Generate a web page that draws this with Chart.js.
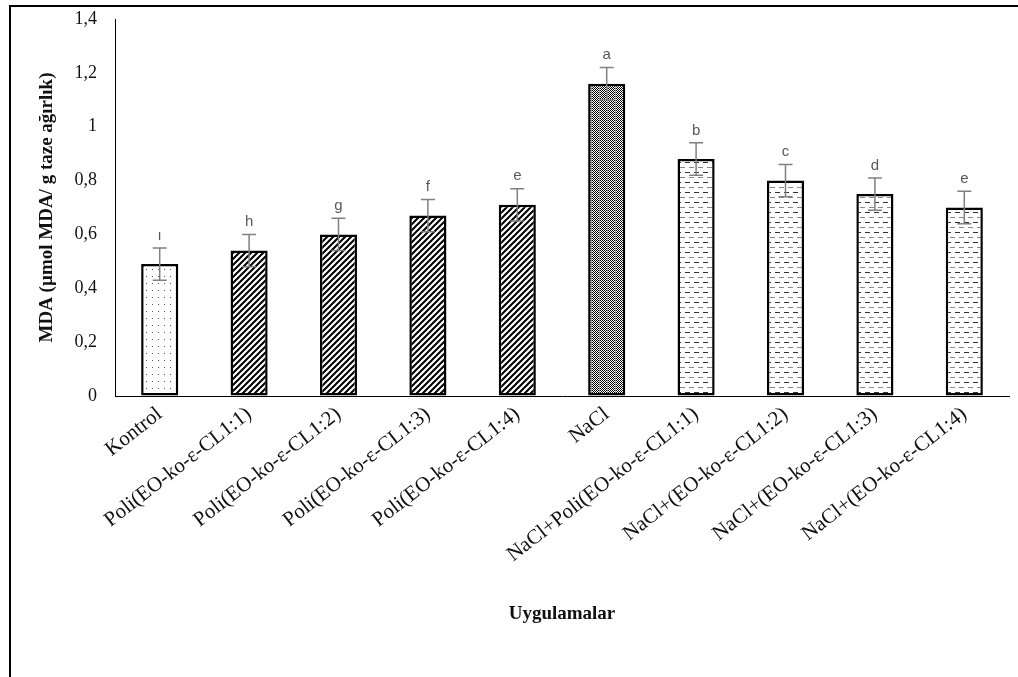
<!DOCTYPE html>
<html>
<head>
<meta charset="UTF-8">
<title>MDA</title>
<script src="https://cdn.jsdelivr.net/npm/chart.js@4"></script>
<style>
    body { margin: 0; background: #fff; }
    #wrap { position: relative; width: 1018px; height: 677px; overflow: hidden; }
    #frame {
        position: absolute; left: 9px; top: 5px; right: -5px; bottom: -5px;
        border-top: 2.5px solid #000; border-left: 2.5px solid #000;
    }
    canvas { position: absolute; left: 0; top: 0; }
</style>
</head>
<body>
<div id="wrap">
    <div id="frame"></div>
    <canvas id="chart" width="1018" height="677"></canvas>
</div>
<script>
// treatments
const categories = [
    'Kontrol',
    'Poli(EO-ko-ε-CL1:1)',
    'Poli(EO-ko-ε-CL1:2)',
    'Poli(EO-ko-ε-CL1:3)',
    'Poli(EO-ko-ε-CL1:4)',
    'NaCl',
    'NaCl+Poli(EO-ko-ε-CL1:1)',
    'NaCl+(EO-ko-ε-CL1:2)',
    'NaCl+(EO-ko-ε-CL1:3)',
    'NaCl+(EO-ko-ε-CL1:4)'
];
// MDA means and error (+/-)
const mdaValues = [0.49, 0.54, 0.60, 0.67, 0.71, 1.16, 0.88, 0.80, 0.75, 0.70];
const mdaErrors = [0.06, 0.06, 0.06, 0.06, 0.06, 0.06, 0.06, 0.06, 0.06, 0.06];
// significance letters
const letters = ['ı', 'h', 'g', 'f', 'e', 'a', 'b', 'c', 'd', 'e'];
const yTicks = [0, 0.2, 0.4, 0.6, 0.8, 1, 1.2, 1.4];

function makeTile(w, h, draw) {
    const c = document.createElement('canvas');
    c.width = w; c.height = h;
    const g = c.getContext('2d');
    g.fillStyle = '#fff';
    g.fillRect(0, 0, w, h);
    draw(g);
    return document.getElementById('chart').getContext('2d').createPattern(c, 'repeat');
}

const dots = makeTile(6, 7, g => {
    g.fillStyle = '#555';
    g.fillRect(2, 3, 1, 1);
});
const hatch = makeTile(6, 6, g => {
    g.strokeStyle = '#000';
    g.lineWidth = 2;
    g.beginPath();
    g.moveTo(-1, 7); g.lineTo(7, -1);
    g.moveTo(-4, 4); g.lineTo(4, -4);
    g.moveTo(2, 10); g.lineTo(10, 2);
    g.stroke();
});
const checker = makeTile(8, 2, g => {
    g.fillStyle = '#000';
    g.fillRect(0, 0, 1, 1); g.fillRect(2, 0, 1, 1); g.fillRect(4, 0, 1, 1); g.fillRect(6, 0, 1, 1);
    g.fillRect(1, 1, 1, 1); g.fillRect(3, 1, 1, 1); g.fillRect(5, 1, 1, 1);
    g.fillStyle = '#999';
    g.fillRect(7, 0, 1, 2);
});
const dashes = makeTile(9, 10, g => {
    g.fillStyle = '#333';
    g.fillRect(1, 2, 5, 1);
    g.fillStyle = '#888';
    g.fillRect(5, 7, 5, 1);
    g.fillRect(0, 7, 1, 1);
});

function fillFor(i) {
    if (i === 0) return dots;
    if (i < 5) return hatch;
    if (i === 5) return checker;
    return dashes;
}

const errorBars = {
    id: 'errorBars',
    afterDatasetsDraw(chart) {
        const ctx = chart.ctx;
        const meta = chart.getDatasetMeta(0);
        const y = chart.scales.y;
        ctx.save();
        ctx.strokeStyle = '#808080';
        ctx.lineWidth = 1.5;
        meta.data.forEach((bar, i) => {
            const top = y.getPixelForValue(mdaValues[i] + mdaErrors[i]);
            const bot = y.getPixelForValue(mdaValues[i] - mdaErrors[i]);
            ctx.beginPath();
            ctx.moveTo(bar.x, top); ctx.lineTo(bar.x, bot);
            ctx.moveTo(bar.x - 7, top); ctx.lineTo(bar.x + 7, top);
            ctx.moveTo(bar.x - 7, bot); ctx.lineTo(bar.x + 7, bot);
            ctx.stroke();
            ctx.fillStyle = '#595959';
            ctx.font = '15px "Liberation Sans", Arial, sans-serif';
            ctx.textAlign = 'center';
            ctx.textBaseline = 'bottom';
            ctx.fillText(letters[i], bar.x, top - 5);
        });
        ctx.restore();
    }
};

new Chart(document.getElementById('chart'), {
    type: 'bar',
    data: {
        labels: categories,
        datasets: [{
            data: mdaValues,
            backgroundColor: categories.map((c, i) => fillFor(i)),
            borderColor: '#000',
            borderWidth: 2.5,
            borderSkipped: false,
            categoryPercentage: 1,
            barPercentage: 0.415
        }]
    },
    options: {
        responsive: false,
        animation: false,
        events: [],
        layout: { padding: { left: 0, right: 9, top: 19, bottom: 0 } },
        plugins: { legend: { display: false }, tooltip: { enabled: false } },
        scales: {
            x: {
                grid: { display: true, drawOnChartArea: false, drawTicks: false },
                border: { color: '#000', width: 1 },
                ticks: {
                    autoSkip: false,
                    minRotation: 38,
                    maxRotation: 38,
                    padding: 6,
                    color: '#111',
                    font: { family: '"Liberation Serif", "Times New Roman", serif', size: 21 }
                },
                title: {
                    display: true,
                    text: 'Uygulamalar',
                    color: '#111',
                    padding: { top: 0, bottom: 52 },
                    font: { family: '"Liberation Serif", "Times New Roman", serif', size: 19, weight: 'bold' }
                },
                afterFit(scale) { scale.height = 281; }
            },
            y: {
                min: 0,
                max: 1.4,
                afterBuildTicks(scale) { scale.ticks = yTicks.map(v => ({ value: v })); },
                grid: { display: true, drawOnChartArea: false, drawTicks: false },
                border: { color: '#000', width: 1 },
                ticks: {
                    padding: 18,
                    color: '#111',
                    font: { family: '"Liberation Serif", "Times New Roman", serif', size: 18 },
                    callback: v => String(Math.round(v * 10) / 10).replace('.', ',')
                },
                title: {
                    display: true,
                    text: 'MDA (µmol MDA/ g taze ağırlık)',
                    color: '#111',
                    padding: { top: 36, bottom: 0 },
                    font: { family: '"Liberation Serif", "Times New Roman", serif', size: 19, weight: 'bold' }
                },
                afterFit(scale) {
                    scale.width = 115;
                    scale.paddingTop = 0;
                    scale.paddingBottom = 0;
                }
            }
        }
    },
    plugins: [errorBars]
});
</script>
</body>
</html>
